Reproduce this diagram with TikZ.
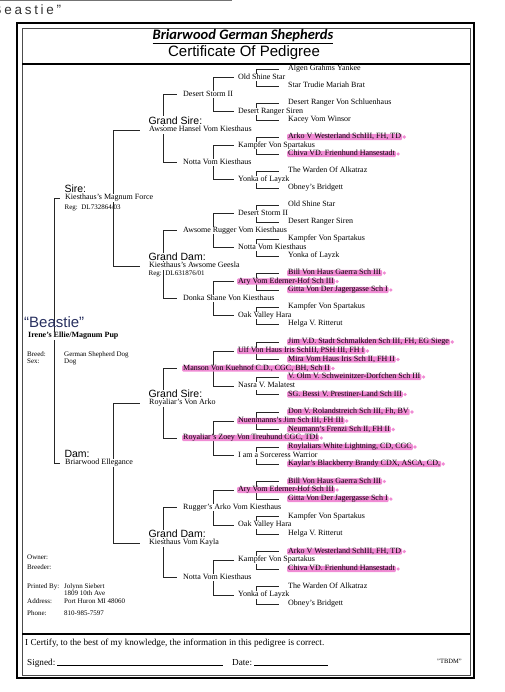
\documentclass[tikz,border=0pt]{standalone}
\usepackage{fontspec}
\setmainfont{Liberation Serif}
\setsansfont{Liberation Sans}
\newfontfamily\titlefont{Carlito}
\usetikzlibrary{backgrounds}
\definecolor{hlpink}{RGB}{240,140,212}
\definecolor{ink}{RGB}{40,48,95}
\tikzset{
  dog/.style={anchor=west, fill=white, font=\fontsize{8}{9}\selectfont,
              text height=5.6pt, text depth=1.7pt, inner xsep=1pt, inner ysep=0.2pt},
  mdot/.style={circle, fill=hlpink, inner sep=1.3pt},
  dogmark/.style={dog, fill=hlpink, inner ysep=-0.6pt, rounded corners=1pt,
                  label={[mdot]east:{}}},
  hdr/.style={anchor=west, fill=white, font=\sffamily\fontsize{10.5}{11}\selectfont,
              inner sep=0.3pt},
  reg/.style={anchor=west, font=\fontsize{7}{8}\selectfont, inner sep=0.5pt},
  info/.style={anchor=west, font=\fontsize{7}{8}\selectfont, inner sep=0pt,
               text height=4.8pt, text depth=1.4pt},
  foot/.style={anchor=west, font=\fontsize{9.2}{10}\selectfont, inner sep=0pt,
               text height=6.4pt, text depth=2pt},
  hand/.style={anchor=west, font=\sffamily\fontsize{15}{16}\selectfont, inner sep=0pt},
  link/.style={draw=black!85, line width=0.6pt},
}

\begin{document}
\begin{tikzpicture}[x=1pt, y=-1pt]
\useasboundingbox (0,0) rectangle (504,692);

%% scan edge and pencil note
\draw[black!55, line width=1pt] (0,0.5) -- (232,0.5);
\node[hand, black!80, font=\sffamily\fontsize{13.5}{14}\selectfont\addfontfeature{LetterSpace=20}]
  (note1) at (-7.5,9.5) {Beastie”};

%% frame
\draw[line width=1.4pt] (17,23) rectangle (474,678);
\draw[black!70, line width=0.5pt] (22,28) rectangle (470,675);
\draw[line width=1.8pt] (22,64) -- (470,64);
\draw[line width=1.8pt] (22,634) -- (470,634);

%% title
\node[font=\titlefont\bfseries\itshape\fontsize{14.5}{16}\selectfont] (brand) at (243,37)
  {\underline{Briarwood German Shepherds}};
\node[font=\sffamily\fontsize{15}{17}\selectfont] (title) at (244,52.5) {Certificate Of Pedigree};

%% the pup
\node[hand, ink] (note2) at (24,322) {“Beastie”};
\node[dog, font=\bfseries\fontsize{8}{9}\selectfont] (pup) at (27,336) {Irene's Ellie/Magnum Pup};

\node[info] (breedl) at (27,355) {Breed:};
\node[info] (breed) at (64,355) {German Shepherd Dog};
\node[info] (sexl) at (27,361.5) {Sex:};
\node[info] (sex) at (64,361.5) {Dog};

\node[info] (ownerl) at (27,558) {Owner:};
\node[info] (breederl) at (27,568) {Breeder:};
\node[info] (printl) at (27,587) {Printed By:};
\node[info] (printer) at (64,587) {Jolynn Siebert};
\node[info] (street) at (64,593.5) {1809 10th Ave};
\node[info] (addrl) at (27,602) {Address:};
\node[info] (town) at (64,602) {Port Huron MI 48060};
\node[info] (phonel) at (27,614) {Phone:};
\node[info] (phone) at (64,614) {810-985-7597};

%% parents
\node[dog] (s) at (64,198) {Kiesthaus's Magnum Force};
\node[hdr] (sh) at ([yshift=9pt]s.west) {Sire:};
\node[reg] (sr) at ([yshift=-9.5pt]s.west) {Reg:\enspace DL732864/03};
\node[dog] (d) at (64,463) {Briarwood Ellegance};
\node[hdr] (dh) at ([yshift=9pt]d.west) {Dam:};

%% grandparents
\node[dog] (ss) at (148,130) {Awsome Hansel Vom Kiesthaus};
\node[hdr] (ssh) at ([yshift=9.5pt]ss.west) {Grand Sire:};
\node[dog] (sd) at (148,266) {Kiesthaus's Awsome Geesla};
\node[hdr] (sdh) at ([yshift=9pt]sd.west) {Grand Dam:};
\node[reg] (sdr) at ([yshift=-7.5pt]sd.west) {Reg:\enspace DL631876/01};
\node[dog] (ds) at (148,403) {Royaliar's Von Arko};
\node[hdr] (dsh) at ([yshift=9pt]ds.west) {Grand Sire:};
\node[dog] (dd) at (148,543) {Kiesthaus Vom Kayla};
\node[hdr] (ddh) at ([yshift=9pt]dd.west) {Grand Dam:};

%% great-grandparents
\foreach \id/\y/\st/\nm in {
  sss/94.5/dog/Desert Storm II,
  ssd/162.5/dog/Notta Vom Kiesthaus,
  sds/230.5/dog/Awsome Rugger Vom Kiesthaus,
  sdd/298.5/dog/Donka Shane Von Kiesthaus,
  dss/368.5/dogmark/{Manson Von Kuehnof C.D., CGC, BH, Sch II},
  dsd/438/dogmark/{Royaliar's Zoey Von Treuhund CGC, TDI},
  dds/507.5/dog/Rugger's Arko Vom Kiesthaus,
  ddd/577.5/dog/Notta Vom Kiesthaus}
  \node[\st] (\id) at (182,\y) {\nm};

%% 4th generation
\foreach \id/\y/\st/\nm in {
  ssss/77.5/dog/Old Shine Star,
  sssd/111.5/dog/Desert Ranger Siren,
  ssds/145.5/dog/Kampfer Von Spartakus,
  ssdd/179.5/dog/Yonka of Layzk,
  sdss/213.5/dog/Desert Storm II,
  sdsd/247.5/dog/Notta Vom Kiesthaus,
  sdds/281.5/dogmark/Ary Vom Ederner-Hof Sch III,
  sddd/315.5/dog/Oak Valley Hara,
  dsss/351/dogmark/{Ulf Von Haus Iris SchIII, PSH III, FH I},
  dssd/386/dog/Nasra V. Malatest,
  dsds/421/dogmark/{Nuenmanns's Jim Sch III, FH III},
  dsdd/455.5/dog/I am a Sorceress Warrior,
  ddss/490/dogmark/Ary Vom Ederner-Hof Sch III,
  ddsd/525/dog/Oak Valley Hara,
  ddds/560/dog/Kampfer Von Spartakus,
  dddd/595/dog/Yonka of Layzk}
  \node[\st] (\id) at (237,\y) {\nm};

%% 5th generation
\foreach \id/\y/\st/\nm in {
  sssss/69/dog/Algen Grahms Yankee,
  ssssd/86/dog/Star Trudie Mariah Brat,
  sssds/103/dog/Desert Ranger Von Schluenhaus,
  sssdd/120/dog/Kacey Vom Winsor,
  ssdss/137/dogmark/{Arko V Westerland SchIII, FH, TD},
  ssdsd/154/dogmark/Chiva VD. Frienhund Hansestadt,
  ssdds/171/dog/The Warden Of Alkatraz,
  ssddd/188/dog/Obney's Bridgett,
  sdsss/205/dog/Old Shine Star,
  sdssd/222/dog/Desert Ranger Siren,
  sdsds/239/dog/Kampfer Von Spartakus,
  sdsdd/256/dog/Yonka of Layzk,
  sddss/273/dogmark/Bill Von Haus Gaerra Sch III,
  sddsd/290/dogmark/Gitta Von Der Jagergasse Sch I,
  sddds/307/dog/Kampfer Von Spartakus,
  sdddd/324/dog/Helga V. Ritterut,
  dssss/342/dogmark/{Jim V.D. Stadt Schmalkden Sch III, FH, EG Siege},
  dsssd/359.5/dogmark/{Mira Vom Haus Iris Sch II, FH II},
  dssds/377/dogmark/V. Olm V. Schweinitzer-Dorfchen Sch III,
  dssdd/394.5/dogmark/SG. Bessi V. Prestiner-Land Sch III,
  dsdss/412/dogmark/{Don V. Rolandstreich Sch III, Fh, BV},
  dsdsd/429.5/dogmark/{Neumann's Frenzi Sch II, FH II},
  dsdds/447/dogmark/{Roylaliars White Lightning, CD, CGC},
  dsddd/464/dogmark/{Kaylar's Blackberry Brandy CDX, ASCA, CD,},
  ddsss/481.5/dogmark/Bill Von Haus Gaerra Sch III,
  ddssd/499/dogmark/Gitta Von Der Jagergasse Sch I,
  ddsds/516.5/dog/Kampfer Von Spartakus,
  ddsdd/534/dog/Helga V. Ritterut,
  dddss/551.5/dogmark/{Arko V Westerland SchIII, FH, TD},
  dddsd/569/dogmark/Chiva VD. Frienhund Hansestadt,
  dddds/586.5/dog/The Warden Of Alkatraz,
  ddddd/604/dog/Obney's Bridgett}
  \node[\st] (\id) at (287,\y) {\nm};

%% brackets: child -> sire above, dam below
\begin{scope}[on background layer]
\draw[link, shorten >=4pt] ([xshift=27pt]pup.west) |- (s.west);
\draw[link, shorten >=4pt] ([xshift=27pt]pup.west) |- (d.west);
\foreach \ch in {s,d} {
  \draw[link, shorten >=8pt] ([xshift=49pt]\ch.west) |- (\ch s.west);
  \draw[link, shorten >=8pt] ([xshift=49pt]\ch.west) |- (\ch d.west);
}
\foreach \ch in {ss,sd,ds,dd} {
  \draw[link, shorten >=5pt] ([xshift=15pt]\ch.west) |- (\ch s.west);
  \draw[link, shorten >=5pt] ([xshift=15pt]\ch.west) |- (\ch d.west);
}
\foreach \ch in {sss,ssd,sds,sdd,dss,dsd,dds,ddd} {
  \draw[link, shorten >=3.5pt] ([xshift=31pt]\ch.west) |- (\ch s.west);
  \draw[link, shorten >=3.5pt] ([xshift=31pt]\ch.west) |- (\ch d.west);
}
\foreach \ch in {ssss,sssd,ssds,ssdd,sdss,sdsd,sdds,sddd,dsss,dssd,dsds,dsdd,ddss,ddsd,ddds,dddd} {
  \draw[link, shorten >=8pt] ([xshift=19.5pt]\ch.west) |- (\ch s.west);
  \draw[link, shorten >=8pt] ([xshift=19.5pt]\ch.west) |- (\ch d.west);
}
\end{scope}

%% certification
\node[foot] (certify) at (25,643)
  {I Certify, to the best of my knowledge, the information in this pedigree is correct.};
\node[foot] (signed) at (27,663) {Signed:\hspace{2pt}\rule{166pt}{0.5pt}};
\node[foot] (date) at (232,663) {Date:\hspace{2pt}\rule{74pt}{0.5pt}};
\node[foot, font=\fontsize{6.5}{7}\selectfont] (code) at (437,661) {"TBDM"};

\end{tikzpicture}
\end{document}
